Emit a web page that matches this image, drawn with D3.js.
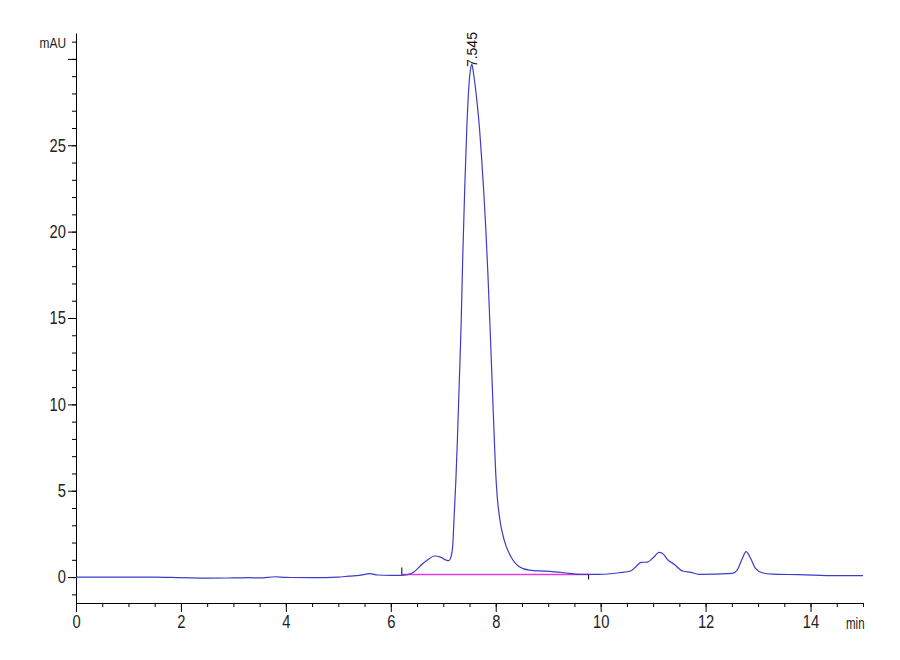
<!DOCTYPE html>
<html>
<head>
<meta charset="utf-8">
<script src="https://cdn.jsdelivr.net/npm/d3@7"></script>
<style>
  body { margin: 0; background: #fff; }
  text { font-family: 'Liberation Sans', Arial, sans-serif; }
</style>
</head>
<body>
<div class="container"></div>
<script>
const width = 900;
const height = 660;
const margin = { top: 33, right: 37, bottom: 57, left: 76 };

// dados do cromatograma (min, mAU)
const timeMin = [
  0, 0.5, 1.0, 1.5, 1.8, 2.2, 2.5, 3.0, 3.3, 3.5, 3.8, 4.0, 4.5, 5.0, 5.2, 5.4, 5.6, 5.75, 6.0, 6.21,
  6.42, 6.61, 6.74, 6.83, 6.96, 7.05, 7.10, 7.15, 7.18, 7.21, 7.24, 7.27, 7.30, 7.34, 7.37, 7.41,
  7.45, 7.49, 7.52, 7.545, 7.57, 7.61, 7.65, 7.69, 7.73, 7.77, 7.81, 7.85, 7.90, 7.94, 7.97, 8.00,
  8.03, 8.07, 8.16, 8.29, 8.45, 8.64, 8.96, 9.30, 9.59, 9.97,
  10.35, 10.57, 10.67, 10.77, 10.89, 11.02, 11.11, 11.18, 11.27, 11.40, 11.56, 11.72, 11.87,
  12.51, 12.60, 12.70, 12.77, 12.86, 12.95, 13.08, 13.27, 13.78, 14.5, 15.0
];
const signalMAU = [
  0, 0, 0, 0, -0.02, -0.05, -0.06, -0.05, -0.03, -0.05, 0.02, -0.02, -0.03, 0, 0.06, 0.1, 0.2, 0.12, 0.1, 0.1,
  0.25, 0.79, 1.08, 1.22, 1.14, 0.99, 0.95, 1.2, 1.8, 3.7, 5.6, 8.0, 10.8, 14.6, 18.4, 22.6,
  26.1, 28.5, 29.4, 29.7, 29.3, 28.4, 27.3, 26.0, 24.3, 22.4, 20.2, 17.6, 13.8, 10.6, 8.2, 6.0,
  4.6, 3.5, 2.15, 1.18, 0.6, 0.4, 0.34, 0.25, 0.16, 0.16,
  0.25, 0.35, 0.6, 0.85, 0.87, 1.18, 1.43, 1.37, 1.03, 0.74, 0.35, 0.27, 0.16,
  0.21, 0.4, 1.08, 1.47, 1.08, 0.5, 0.25, 0.17, 0.14, 0.08, 0.08
];

// linha de base da integração
const baselineTime = [6.21, 9.77];
const baselineValue = [0.15, 0.15];

// rótulo do pico
const peakTimes = [7.545];
const peakLabels = ['7.545'];
const peakHeights = [29.7];

const xTicks = [0, 2, 4, 6, 8, 10, 12, 14];
const yTicks = [0, 5, 10, 15, 20, 25];

const svg = d3.select('.container')
  .append('svg')
  .attr('width', width)
  .attr('height', height);

const x = d3.scaleLinear()
  .domain([0, 15])
  .range([margin.left, width - margin.right]);

const y = d3.scaleLinear()
  .domain([-1.5, 31.5])
  .range([height - margin.bottom, margin.top]);

// fonte estreita: comprime o texto na horizontal
const aperto = 0.82;
function apertar(sel) {
  sel.each(function () {
    const t = d3.select(this);
    const x0 = +t.attr('x') || 0;
    t.attr('x', x0 / aperto).attr('transform', `scale(${aperto},1)`);
  });
}

// eixo x
const xAxisY = height - margin.bottom;
svg.append('g')
  .attr('transform', `translate(0, ${xAxisY})`)
  .call(d3.axisBottom(x).tickValues(d3.range(0, 15.01, 0.5)).tickSize(4).tickFormat(''))
  .call(g => g.select('.domain').remove())
  .selectAll('line').attr('stroke', '#000');

svg.append('g')
  .attr('transform', `translate(0, ${xAxisY})`)
  .call(d3.axisBottom(x).tickValues(xTicks).tickSize(9).tickSizeOuter(0).tickPadding(3).tickFormat(d3.format('d')))
  .call(g => g.select('.domain').attr('stroke', '#000'))
  .call(g => g.selectAll('text').attr('font-size', 18).attr('fill', '#222').call(apertar))
  .call(g => g.selectAll('line').attr('stroke', '#000'));

svg.append('text')
  .attr('transform', 'translate(846, 629) scale(0.72,1)')
  .attr('font-size', 16)
  .attr('fill', '#222')
  .text('min');

// eixo y
svg.append('g')
  .attr('transform', `translate(${margin.left}, 0)`)
  .call(d3.axisLeft(y).tickValues(d3.range(-1, 31.5, 1)).tickSize(4).tickFormat(''))
  .call(g => g.select('.domain').remove())
  .selectAll('line').attr('stroke', '#000');

svg.append('g')
  .attr('transform', `translate(${margin.left}, 0)`)
  .call(d3.axisLeft(y).tickValues(yTicks.concat([30])).tickSize(8).tickSizeOuter(0).tickPadding(2)
    .tickFormat(d => d === 30 ? '' : d))
  .call(g => g.select('.domain').attr('stroke', '#000'))
  .call(g => g.selectAll('text').attr('font-size', 18).attr('fill', '#222').call(apertar))
  .call(g => g.selectAll('line').attr('stroke', '#000'));

svg.append('text')
  .attr('transform', 'translate(66, 48) scale(0.85,1)')
  .attr('text-anchor', 'end')
  .attr('font-size', 14)
  .attr('fill', '#222')
  .text('mAU');

// linha de base (magenta)
const baseData = baselineTime.map((t, i) => ({ t, v: baselineValue[i] }));
svg.append('path')
  .datum(baseData)
  .attr('fill', 'none')
  .attr('stroke', '#e23be2')
  .attr('stroke-width', 1.3)
  .attr('d', d3.line().x(d => x(d.t)).y(d => y(d.v)));

// marcas de início / fim da integração
svg.append('line')
  .attr('x1', x(baselineTime[0])).attr('x2', x(baselineTime[0]))
  .attr('y1', y(baselineValue[0])).attr('y2', y(baselineValue[0]) - 7)
  .attr('stroke', '#000');
svg.append('line')
  .attr('x1', x(baselineTime[1])).attr('x2', x(baselineTime[1]))
  .attr('y1', y(baselineValue[1])).attr('y2', y(baselineValue[1]) + 5)
  .attr('stroke', '#000');

// sinal
const signal = timeMin.map((t, i) => ({ t, v: signalMAU[i] }));
svg.append('path')
  .datum(signal)
  .attr('fill', 'none')
  .attr('stroke', '#3c3cc8')
  .attr('stroke-width', 1.2)
  .attr('d', d3.line().curve(d3.curveMonotoneX).x(d => x(d.t)).y(d => y(d.v)));

// rótulo do pico
peakTimes.forEach((t, i) => {
  svg.append('text')
    .attr('transform', `translate(${x(t) + 5}, ${y(peakHeights[i]) + 3}) rotate(-90)`)
    .attr('font-size', 14)
    .attr('fill', '#111')
    .text(peakLabels[i]);
});
</script>
</body>
</html>
